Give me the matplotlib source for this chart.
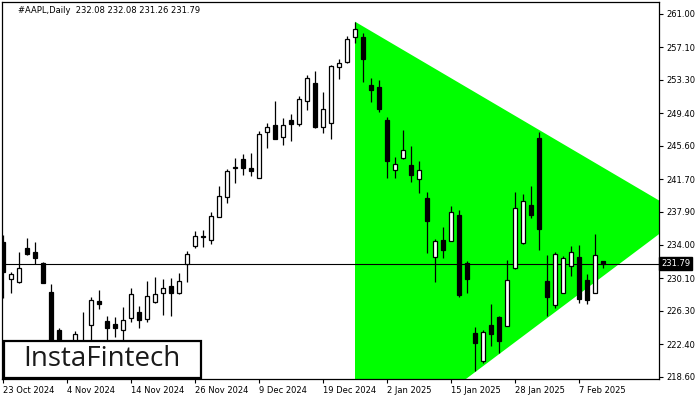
import matplotlib
matplotlib.use("Agg")
import matplotlib.pyplot as plt
from matplotlib.patches import Rectangle, Polygon
from matplotlib.transforms import blended_transform_factory

# ---- data ----
opens = [234.35, 229.98, 229.70, 233.61, 233.14, 231.85, 228.46, 224.06, 221.00, 221.80,
         222.60, 224.64, 227.45, 225.11, 224.76, 224.06, 225.42, 226.20, 225.31, 227.37,
         228.42, 229.17, 228.35, 231.74, 233.88, 235.01, 234.58, 237.30, 239.64, 243.00,
         244.01, 242.99, 241.86, 247.17, 247.99, 246.66, 248.61, 248.11, 250.83, 252.93,
         247.75, 248.22, 254.77, 255.39, 258.28, 258.28, 252.66, 252.43, 248.61, 242.73,
         244.13, 243.31, 241.67, 239.45, 232.56, 234.54, 234.50, 237.50, 231.85, 223.67,
         220.47, 224.61, 225.58, 224.56, 231.27, 234.19, 238.64, 246.47, 229.75, 226.94,
         228.42, 231.50, 232.56, 229.87, 228.42, 232.08]
highs = [235.16, 230.87, 233.21, 234.85, 234.38, 231.97, 229.40, 224.33, 222.70, 223.94,
         226.13, 227.95, 228.73, 225.73, 225.58, 226.78, 228.93, 226.86, 229.79, 230.22,
         229.98, 230.10, 230.70, 233.29, 235.63, 235.75, 237.82, 240.89, 242.84, 244.13,
         244.60, 244.78, 247.32, 248.22, 250.83, 248.81, 249.27, 251.41, 253.87, 254.34,
         251.88, 255.00, 255.74, 258.43, 260.10, 258.74, 253.48, 253.28, 248.99, 244.32,
         247.44, 245.57, 243.81, 240.15, 234.66, 236.06, 238.55, 238.09, 232.12, 224.37,
         224.06, 227.06, 225.69, 232.24, 240.15, 239.96, 240.89, 247.17, 232.82, 233.21,
         232.71, 233.88, 233.99, 230.60, 235.28, 232.08]
lows = [227.76, 228.42, 229.60, 232.80, 231.74, 229.52, 221.40, 220.30, 219.70, 221.10,
        221.20, 222.60, 226.48, 222.00, 223.27, 222.70, 225.03, 224.26, 225.03, 227.18,
        225.81, 225.69, 228.30, 229.70, 233.61, 233.80, 234.08, 237.23, 238.94, 241.28,
        242.18, 242.06, 241.77, 245.37, 246.35, 245.69, 246.19, 247.94, 249.78, 247.71,
        247.12, 246.35, 253.40, 255.31, 257.64, 253.09, 250.75, 249.51, 241.86, 241.86,
        244.01, 241.39, 240.11, 233.02, 229.70, 232.51, 234.46, 227.95, 228.42, 219.30,
        220.23, 222.22, 221.40, 224.50, 231.20, 234.15, 237.15, 233.41, 225.69, 226.66,
        228.40, 230.37, 227.25, 227.10, 228.40, 231.26]
closes = [230.84, 230.60, 231.27, 232.91, 232.44, 229.59, 222.00, 222.40, 222.00, 223.55,
          222.70, 227.53, 227.06, 224.26, 224.26, 225.19, 228.23, 225.23, 228.07, 228.23,
          228.93, 228.44, 229.79, 232.94, 235.05, 234.93, 237.42, 239.72, 242.65, 243.06,
          243.03, 242.68, 246.94, 247.82, 246.42, 247.99, 248.11, 251.03, 253.48, 247.82,
          249.86, 254.89, 255.24, 258.04, 259.21, 255.77, 252.11, 249.86, 243.85, 243.43,
          245.07, 242.21, 242.73, 236.84, 234.43, 233.37, 237.82, 228.15, 229.98, 222.57,
          223.79, 223.59, 222.81, 229.87, 238.28, 239.10, 237.54, 235.90, 227.95, 232.91,
          232.44, 233.21, 227.72, 227.56, 232.79, 231.79]

date_tick_idx = [0, 8, 16, 24, 32, 40, 48, 56, 64, 72]
date_tick_labels = ["23 Oct 2024", "4 Nov 2024", "14 Nov 2024", "26 Nov 2024", "9 Dec 2024",
                    "19 Dec 2024", "2 Jan 2025", "15 Jan 2025", "28 Jan 2025", "7 Feb 2025"]
price_ticks = [261.00, 257.10, 253.30, 249.40, 245.60, 241.70, 237.90, 234.00, 230.10,
               226.30, 222.40, 218.60]
last_price = 231.79
title_text = "#AAPL,Daily  232.08 232.08 231.26 231.79"

# triangle pattern points (bar index, price)
tri_x = [44, 85.15, 44]
tri_y = [260.10, 237.47, 208.60]

# ---- figure ----
W, H = 700, 400
fig = plt.figure(figsize=(W / 100, H / 100), dpi=100)
ax_l, ax_r, ax_t, ax_b = 2, 659, 2, 379
ax = fig.add_axes([ax_l / W, 1 - ax_b / H, (ax_r - ax_l) / W, (ax_b - ax_t) / H])
ax.set_facecolor("white")

ax.set_xlim(-0.125, 82.0)
ax.set_ylim(218.33, 262.40)

# triangle
ax.add_patch(Polygon(list(zip(tri_x, tri_y)), closed=True, facecolor="#00ff00",
                     edgecolor="none", zorder=1))

# last price line
ax.axhline(last_price, color="black", lw=0.8, zorder=2)

# candles
xs = list(range(len(opens)))
bw = 0.52
for i in xs:
    o, h, l, c = opens[i], highs[i], lows[i], closes[i]
    ax.vlines(i, l, h, color="black", lw=0.9, zorder=3)
    bottom = min(o, c)
    height = abs(c - o)
    fc = "white" if c >= o else "black"
    ax.add_patch(Rectangle((i - bw / 2, bottom), bw, height, facecolor=fc,
                           edgecolor="black", lw=0.9, zorder=4))

# axes styling
for s in ax.spines.values():
    s.set_color("black")
    s.set_linewidth(0.9)
ax.yaxis.tick_right()
ax.set_yticks(price_ticks)
ax.set_yticklabels([f"{p:.2f}" for p in price_ticks])
ax.tick_params(axis="y", direction="out", length=3, width=0.8, pad=2, labelsize=6,
               colors="black")
ax.set_xticks(date_tick_idx)
ax.set_xticklabels(date_tick_labels)
ax.tick_params(axis="x", direction="out", length=3, width=0.8, pad=2, labelsize=6,
               colors="black")
for lbl in ax.get_xticklabels():
    lbl.set_horizontalalignment("left")

# last price label
trans = blended_transform_factory(ax.transAxes, ax.transData)
ax.text(1.003, last_price, "231.79", transform=trans, ha="left", va="center",
        fontsize=6, color="white", zorder=10, clip_on=False,
        bbox=dict(boxstyle="square,pad=0.25", facecolor="black", edgecolor="black"))

# title
ax.text((18 - ax_l) / (ax_r - ax_l), (ax_b - 10.7) / (ax_b - ax_t), title_text,
        transform=ax.transAxes, ha="left", va="center", fontsize=6, color="black",
        zorder=10)

# logo box
fig.patches.append(Rectangle((3.5 / W, 1 - 378 / H), 197.5 / W, 37.5 / H,
                             transform=fig.transFigure, facecolor="white",
                             edgecolor="black", lw=1.6, zorder=20))
fig.text(102 / W, 1 - 358.5 / H, "InstaFintech", ha="center", va="center",
         fontsize=20, family="Open Sans", color="#1a1a1a", zorder=21)

fig.savefig("out.png", dpi=100)
